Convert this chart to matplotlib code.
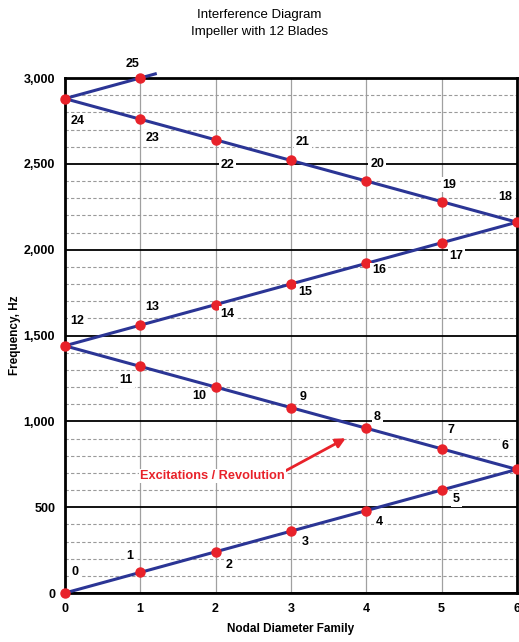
import matplotlib
matplotlib.use("Agg")
import matplotlib.pyplot as plt
from matplotlib import font_manager
from matplotlib.ticker import FuncFormatter, MultipleLocator

# pick a narrow sans if available
names = {f.name for f in font_manager.fontManager.ttflist}
FONT = "Liberation Sans Narrow" if "Liberation Sans Narrow" in names else "Liberation Sans"
plt.rcParams['font.family'] = [FONT, 'DejaVu Sans']
plt.rcParams['font.weight'] = 'bold'

# excitation orders and their frequencies (12 blades, 120 Hz per order)
orders = list(range(26))
freqs = [0, 120, 240, 360, 480, 600, 720, 840, 960, 1080, 1200, 1320, 1440,
         1560, 1680, 1800, 1920, 2040, 2160, 2280, 2400, 2520, 2640, 2760, 2880, 3000]
nodal = [0, 1, 2, 3, 4, 5, 6, 5, 4, 3, 2, 1, 0,
         1, 2, 3, 4, 5, 6, 5, 4, 3, 2, 1, 0, 1]

# label offsets in pixels (dx, dy)
offsets = [(10, 21), (-10, 16), (14, -13), (14, -11), (13, -11), (15, -9),
           (-12, 23), (9, 19), (11, 11), (12, 11), (-16, -9), (-14, -14),
           (12, 25), (12, 18), (12, -9), (14, -8), (13, -7), (15, -13),
           (-12, 25), (8, 17), (11, 17), (12, 18), (12, -25), (12, -19),
           (13, -22), (-8, 14)]

fig = plt.figure(figsize=(5.19, 6.42), dpi=100)
ax = fig.add_axes([0.125, 0.0763, 0.871, 0.8022])

ax.set_xlim(0, 6)
ax.set_ylim(0, 3000)

# grid
ax.yaxis.set_major_locator(MultipleLocator(500))
ax.yaxis.set_minor_locator(MultipleLocator(100))
ax.xaxis.set_major_locator(MultipleLocator(1))
ax.grid(which='major', axis='y', color='black', lw=1.3, ls='-')
ax.grid(which='minor', axis='y', color='#9a9a9a', lw=0.8, ls=(0, (3, 2)))
ax.grid(which='major', axis='x', color='#a0a0a0', lw=0.9, ls='-')
ax.set_axisbelow(True)

for s in ax.spines.values():
    s.set_linewidth(2)
    s.set_color('black')

ax.tick_params(which='both', length=0)
ax.tick_params(axis='y', pad=7, labelsize=9)
ax.tick_params(axis='x', pad=7, labelsize=9)
ax.yaxis.set_major_formatter(FuncFormatter(lambda v, p: f"{int(v):,}"))

blue = '#2b3595'
red = '#e8222a'

# zigzag line, last leg extended a little past order 25
slope = freqs[-1] - freqs[-2]
ext_x = nodal + [nodal[-1] + 0.2]
ext_y = freqs + [freqs[-1] + 0.2 * slope]
ax.plot(ext_x, ext_y, color=blue, lw=2.2, clip_on=False, zorder=3)
ax.plot(nodal, freqs, 'o', color=red, ms=6.5, clip_on=False, zorder=4)

for k, x, y, (dx, dy) in zip(orders, nodal, freqs, offsets):
    ax.annotate(str(k), (x, y), xytext=(dx, dy), textcoords='offset pixels',
                ha='center', va='center', fontsize=9, fontweight='bold',
                annotation_clip=False, zorder=5,
                bbox=dict(boxstyle='square,pad=0.15', fc='white', ec='none'))

ax.annotate('', xy=(3.76, 909), xytext=(2.9, 705),
            arrowprops=dict(arrowstyle='-|>', color=red, lw=2, mutation_scale=14),
            zorder=5)
ax.text(1.0, 682, 'Excitations / Revolution', color=red, fontsize=9.2,
        fontweight='bold', ha='left', va='center', zorder=5,
        bbox=dict(boxstyle='square,pad=0.1', fc='white', ec='none'))

ax.set_xlabel('Nodal Diameter Family', fontsize=8.5, fontweight='bold', labelpad=6)
ax.set_ylabel('Frequency, Hz', fontsize=8.5, fontweight='bold', labelpad=2)

fig.text(0.5, 0.986, 'Interference Diagram\nImpeller with 12 Blades', ha='center',
         va='top', fontsize=9.5, fontweight='normal', linespacing=1.6)

fig.savefig('out.png', dpi=100)
